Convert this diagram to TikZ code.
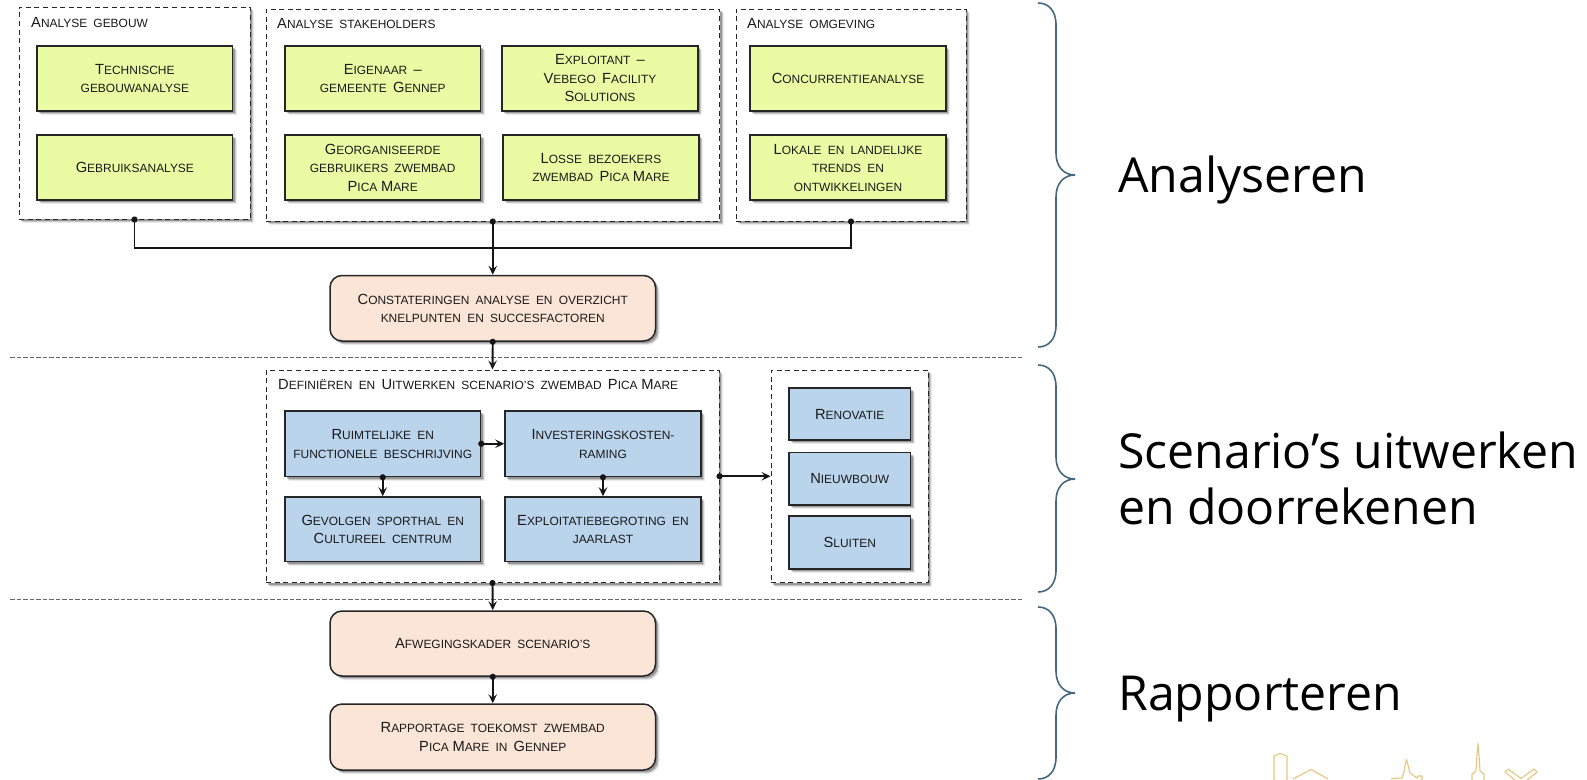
\documentclass[tikz,border=0pt]{standalone}
\usepackage{fontspec}
\setmainfont{Liberation Sans}
\newfontfamily\bigfam{Open Sans}
\usetikzlibrary{shadows,arrows.meta,calc}
\newcommand\capfont{\fontsize{14.7}{18.5}\selectfont\spaceskip=6.2pt\relax}
\newcommand\lc[1]{{\fontsize{11.95}{18.5}\selectfont\spaceskip=6.2pt\relax\MakeUppercase{#1}}}
\newcommand\ns{\hskip 3.6pt\relax}
\definecolor{txt}{HTML}{1A1A1A}
\definecolor{yel}{HTML}{E9FCA4}
\definecolor{blu}{HTML}{BAD4EC}
\definecolor{pea}{HTML}{FBE5D6}
\definecolor{bracecol}{HTML}{44687F}
\definecolor{gold}{HTML}{E6C67E}
\tikzset{
  x=1pt,y=-1pt,
  softshadow/.style={drop shadow={shadow xshift=4pt,shadow yshift=-4pt,opacity=.08,fill=black},
                     drop shadow={shadow xshift=3.2pt,shadow yshift=-3.2pt,opacity=.14,fill=black},
                     drop shadow={shadow xshift=2.2pt,shadow yshift=-2.2pt,opacity=.25,fill=black}},
  basebox/.style={draw=black!85,line width=1.5pt,inner sep=0pt,align=center,font=\capfont,text=txt,softshadow},
  yelbox/.style={basebox,fill=yel},
  blubox/.style={basebox,fill=blu},
  peabox/.style={basebox,fill=pea,rounded corners=12pt},
  group/.style={draw=black!85,line width=1pt,dash pattern=on 5pt off 3.6pt,fill=white,inner sep=0pt,softshadow},
  grouptitle/.style={anchor=west,font=\capfont,text=txt,inner sep=0pt},
  conn/.style={draw=black!92,line width=1.9pt},
  arr/.style={conn,shorten <=-3pt,{Circle[length=6pt,width=6pt]}-{Stealth[length=9pt,width=8.5pt,inset=3.5pt]}},
  dotline/.style={conn,shorten <=-3pt,{Circle[length=6pt,width=6pt]}-},
  sep/.style={draw=black!60,line width=.8pt,dash pattern=on 4.5pt off 2pt},
  bracepath/.style={draw=bracecol,line width=1.6pt},
  bigtext/.style={anchor=west,inner sep=0pt,font=\bigfam\fontsize{48.2}{56}\selectfont,align=left,text=black},
  logo/.style={draw=gold,line width=1.1pt,line join=round},
}
\newcommand\rbox[6]{\node[#1,minimum width={#5-#3},minimum height={#6-#4}] (#2) at ({(#3+#5)/2},{(#4+#6)/2})}
\newcommand\bracesym[3]{%
  \draw[bracepath] (1038,#1) .. controls (1048,#1) and (1056,{#1+7}) .. (1056,{#1+22})
    -- (1056,{#2-22}) .. controls (1056,{#2-8}) and (1064,#2) .. (1075,#2)
    .. controls (1064,#2) and (1056,{#2+8}) .. (1056,{#2+22})
    -- (1056,{#3-22}) .. controls (1056,{#3-7}) and (1048,#3) .. (1038,#3);}
\begin{document}
\begin{tikzpicture}
\useasboundingbox (0,0) rectangle (1587,779);
% groups
\rbox{group}{gebouw}{19}{7}{250}{219}{};
\rbox{group}{stake}{266}{9}{719.5}{221}{};
\rbox{group}{omgeving}{736}{9}{966}{221}{};
\rbox{group}{defin}{266}{370}{719}{582.5}{};
\rbox{group}{varianten}{771}{370}{928}{582.5}{};
% titles
\node[grouptitle] (t1) at (31,23) {A\lc{nalyse gebouw}};
\node[grouptitle] (t2) at (277,24) {A\lc{nalyse stakeholders}};
\node[grouptitle] (t3) at (747,24) {A\lc{nalyse omgeving}};
\node[grouptitle] (t4) at (278,384.5) {D\lc{efiniëren en} U\lc{itwerken scenario’s zwembad} P\lc{ica}\ns M\lc{are}};
% yellow
\rbox{yelbox}{y1}{37}{46}{232.7}{111}{T\lc{echnische}\\\lc{gebouwanalyse}};
\rbox{yelbox}{y2}{37}{135}{232.7}{200}{G\lc{ebruiksanalyse}};
\rbox{yelbox}{y3}{285}{46}{480.5}{111}{E\lc{igenaar} –\\\lc{gemeente} G\lc{ennep}};
\rbox{yelbox}{y4}{502}{46}{698}{111}{E\lc{xploitant} –\\V\lc{ebego} F\lc{acility}\\S\lc{olutions}};
\rbox{yelbox}{y5}{285}{135}{480.5}{200}{G\lc{eorganiseerde}\\\lc{gebruikers zwembad}\\P\lc{ica}\ns M\lc{are}};
\rbox{yelbox}{y6}{503}{135}{699}{200}{L\lc{osse bezoekers}\\\lc{zwembad} P\lc{ica}\ns M\lc{are}};
\rbox{yelbox}{y7}{750}{46}{946}{111}{C\lc{oncurrentieanalyse}};
\rbox{yelbox}{y8}{750}{135}{946}{200}{L\lc{okale en landelijke}\\\lc{trends en}\\\lc{ontwikkelingen}};
% blue
\rbox{blubox}{b1}{285}{411}{480.5}{476.5}{R\lc{uimtelijke en}\\\lc{functionele beschrijving}};
\rbox{blubox}{b2}{505}{411}{701}{476.5}{I\lc{nvesteringskosten-}\\\lc{raming}};
\rbox{blubox}{b3}{285}{497}{480.5}{561.5}{G\lc{evolgen sporthal en}\\C\lc{ultureel centrum}};
\rbox{blubox}{b4}{505}{497}{701}{561.5}{E\lc{xploitatiebegroting en}\\\lc{jaarlast}};
\rbox{blubox}{b5}{789}{388}{910.5}{440}{R\lc{enovatie}};
\rbox{blubox}{b6}{789}{452.5}{910.5}{505}{N\lc{ieuwbouw}};
\rbox{blubox}{b7}{789}{516}{910.5}{569}{S\lc{luiten}};
% peach
\rbox{peabox}{c1}{330}{275.5}{655.5}{341}{C\lc{onstateringen analyse en overzicht}\\\lc{knelpunten en succesfactoren}};
\rbox{peabox}{c2}{330}{611}{655.5}{676}{A\lc{fwegingskader scenario’s}};
\rbox{peabox}{c3}{330}{704}{655.5}{770}{R\lc{apportage toekomst zwembad}\\P\lc{ica}\ns M\lc{are in} G\lc{ennep}};
% separators
\coordinate (s1a) at (10,357); \coordinate (s1b) at (1022,357);
\coordinate (s2a) at (10,599); \coordinate (s2b) at (1022,599);
\draw[sep] (s1a) -- (s1b);
\draw[sep] (s2a) -- (s2b);
% connectors
\coordinate (j) at (493,248);
\draw[dotline] (gebouw.south) |- (j);
\draw[dotline] (omgeving.south) |- (j);
\draw[arr] (stake.south) -- (c1.north);
\draw[arr] (c1.south) -- (defin.north);
\draw[arr] (defin.south) -- (c2.north);
\draw[arr] (c2.south) -- (c3.north);
\draw[arr] (b1.east) -- (b2.west);
\draw[arr] (b1.south) -- (b3.north);
\draw[arr] (b2.south) -- (b4.north);
\draw[arr] (defin.east) -- (varianten.west);
% braces
\bracesym{3}{175}{347}
\bracesym{365}{479}{592}
\bracesym{607}{693}{779}
% large labels
\node[bigtext] (l1) at (1118,180) {Analyseren};
\node[bigtext] (l2) at (1118,478) {Scenario’s uitwerken\\en doorrekenen};
\node[bigtext] (l3) at (1118,699) {Rapporteren};
% logo
\draw[logo] (1274,781) -- (1274,756) -- (1280,753.5) -- (1287,756) -- (1287,781);
\draw[logo] (1293,779) -- (1311,769.5) -- (1328,779);
\draw[logo] (1391,778.5) -- (1402,778) -- (1404,772) -- (1405,765) -- (1406.5,759.5) -- (1408,765) -- (1410,773) -- (1417,778) -- (1418,776) -- (1422,776) -- (1422,781);
\draw[logo] (1472,781) -- (1472,774) -- (1476,771) -- (1477,755) -- (1478,743.5) -- (1479,755) -- (1480,771) -- (1484,774) -- (1484,781);
\draw[logo] (1516,781) -- (1505,772) -- (1508,769) -- (1521,778.5) -- (1534,769) -- (1537,772) -- (1526,781);
\end{tikzpicture}
\end{document}
